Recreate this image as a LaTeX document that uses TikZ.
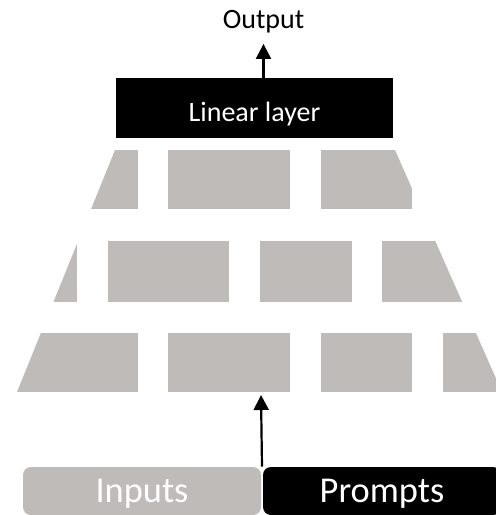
\documentclass[tikz,border=0pt]{standalone}
\usepackage{fontspec}
\setmainfont{Carlito}
\usetikzlibrary{arrows.meta,calc}
\definecolor{blockgray}{RGB}{191,187,184}
\tikzset{
    arr/.style={-{Triangle[width=7.5pt,length=7.5pt]}, line width=1.1pt},
    block/.style={fill=blockgray},
    tag/.style={rounded corners=4pt, minimum width=119pt, minimum height=24pt, inner sep=0pt,
        text=white, text height=11pt, text depth=0pt, font=\fontsize{18.2}{20}\selectfont},
}
\begin{document}
\begin{tikzpicture}[x=0.5pt, y=-0.5pt]
    \useasboundingbox (0,0) rectangle (495,515);
    % Output and linear layer
    \node[anchor=base, inner sep=5.5pt, font=\fontsize{14}{16}\selectfont] (out) at (263.5,28) {Output};
    \node[fill=black, text=white, minimum width=138.5pt, minimum height=30pt, inner sep=0pt,
        text height=13pt, text depth=0pt, font=\fontsize{14}{16}\selectfont] (lin) at (254.5,108) {Linear layer};
    \draw[arr] (out |- lin.north) -- (out.south);
    % Blocks, cut out of one trapezoid
    \begin{scope}
        \clip (115,150) -- (395,150) -- (502,392) -- (17,392) -- cycle;
        % top row
        \fill[block] (0,150) rectangle (138,209);
        \fill[block] (168,150) rectangle (290,209);
        \fill[block] (321,150) rectangle (412,209);
        % middle row
        \fill[block] (0,241) rectangle (77,302);
        \fill[block] (108,241) rectangle (229,302);
        \fill[block] (260,241) rectangle (352,302);
        \fill[block] (382,241) rectangle (510,302);
        % bottom row
        \fill[block] (0,333) rectangle (138,392);
        \fill[block] (168,333) rectangle (290,392);
        \fill[block] (321,333) rectangle (412,392);
        \fill[block] (443,333) rectangle (510,392);
    \end{scope}
    \coordinate (tip) at (261,395);
    % Inputs and prompts
    \node[tag, fill=blockgray] (inp) at (142,491) {Inputs};
    \node[tag, fill=black] (prm) at (382,491) {Prompts};
    \draw[arr] ($(inp.north east)!0.5!(prm.north west)$) -- (tip);
\end{tikzpicture}
\end{document}
